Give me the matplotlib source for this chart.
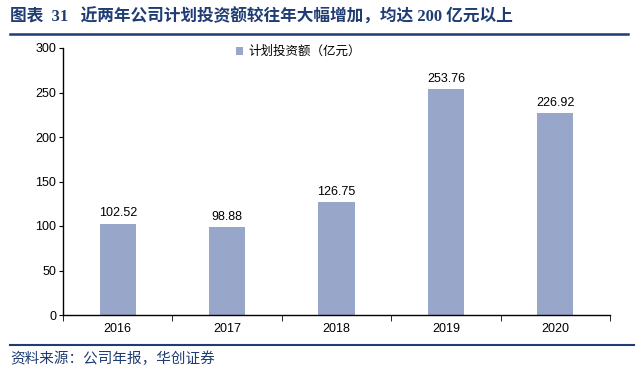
import matplotlib
matplotlib.use('Agg')
import matplotlib.pyplot as plt
import numpy as np

plt.rcParams['font.family'] = ['Liberation Sans', 'Noto Sans CJK SC', 'DejaVu Sans']

# 数据
years = ['2016', '2017', '2018', '2019', '2020']
invest = [102.52, 98.88, 126.75, 253.76, 226.92]

title_txt = '图表  31   近两年公司计划投资额较往年大幅增加，均达 200 亿元以上'
source_txt = '资料来源：公司年报，华创证券'
legend_txt = '计划投资额（亿元）'

navy = '#1F3C73'
bar_color = '#97A6C9'

fig = plt.figure(figsize=(6.4, 3.8), dpi=100)
ax = fig.add_axes([63/640, 65/380, 547/640, 267/380])

x = np.arange(len(years))
bars = ax.bar(x, invest, width=0.33, color=bar_color, label=legend_txt)
for xi, v in zip(x, invest):
    ax.text(xi, v + 5, f'{v:.2f}', ha='center', va='bottom', fontsize=9)

ax.set_xlim(-0.5, len(years) - 0.5)
ax.set_ylim(0, 300)
ax.set_yticks(range(0, 301, 50))
ax.set_xticks(x)
ax.set_xticklabels(years)
ax.set_xticks(np.arange(-0.5, len(years)), minor=True)
ax.tick_params(axis='x', which='major', length=0, labelsize=9, pad=6)
ax.tick_params(axis='x', which='minor', length=4, direction='out')
ax.tick_params(axis='y', length=3, direction='out', labelsize=9, pad=2)
for s in ['top', 'right']:
    ax.spines[s].set_visible(False)
ax.spines['left'].set_linewidth(1.0)
ax.spines['bottom'].set_linewidth(1.0)

ax.legend(loc='upper center', bbox_to_anchor=(0.43, 1.05), frameon=False,
          fontsize=9, handlelength=0.6, handleheight=0.6, handletextpad=0.4)

# 标题与分隔线
fig.text(10/640, 1 - 17/380, title_txt, fontsize=12, fontweight='bold',
         color=navy, ha='left', va='center',
         family=['Liberation Serif', 'Noto Sans CJK SC', 'DejaVu Sans'])
fig.add_artist(plt.Line2D([10/640, 628/640], [1 - 34/380, 1 - 34/380],
                          color=navy, lw=1.8))
fig.add_artist(plt.Line2D([10/640, 634/640], [1 - 345/380, 1 - 345/380],
                          color=navy, lw=1.5))
fig.text(10/640, 1 - 359/380, source_txt, fontsize=10.5, color=navy,
         ha='left', va='center')

fig.savefig('out.png', dpi=100)
